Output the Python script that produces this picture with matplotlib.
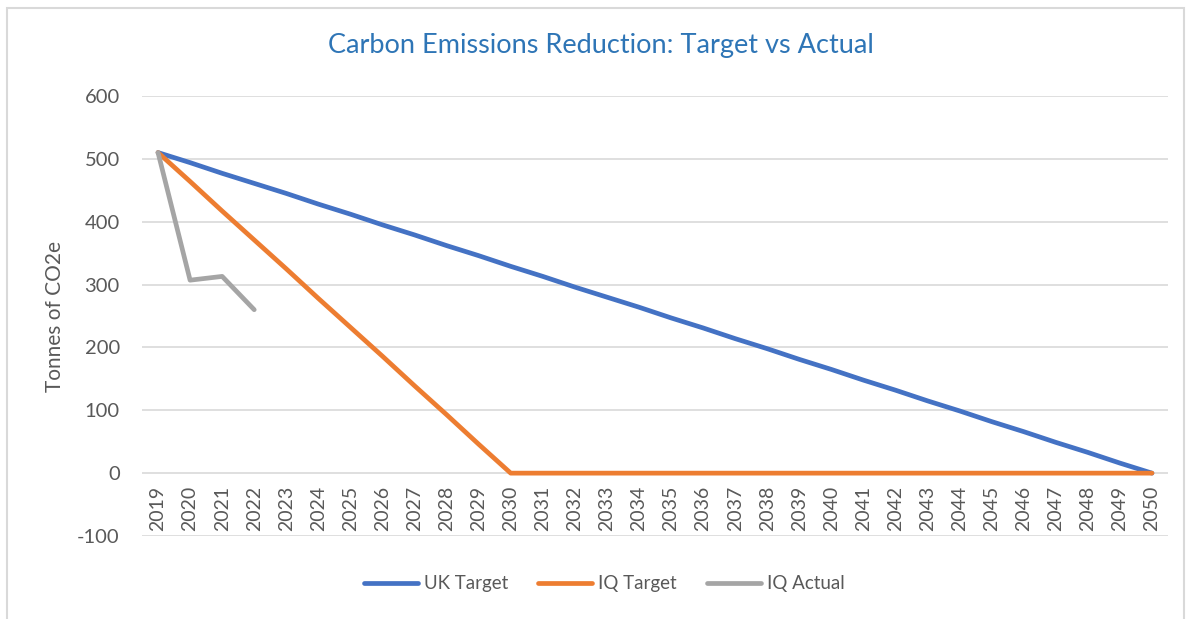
import matplotlib
matplotlib.use("Agg")
import matplotlib.pyplot as plt
from matplotlib.patches import Rectangle

plt.rcParams['font.family'] = ['Lato', 'DejaVu Sans']
plt.rcParams['axes.unicode_minus'] = False

years = [str(y) for y in range(2019, 2051)]

uk_target = [510, 494, 477, 461, 445, 428, 412, 395, 379, 362, 346, 329,
             313, 296, 280, 264, 247, 231, 214, 198, 181, 165, 148, 132,
             115, 99, 82, 66, 49, 33, 16, 0]
iq_target = [510, 464, 417, 371, 325, 278, 232, 186, 139, 93, 46, 0,
             0, 0, 0, 0, 0, 0, 0, 0, 0, 0, 0, 0,
             0, 0, 0, 0, 0, 0, 0, 0]
iq_actual = [510, 307, 313, 260]

series_names = ['UK Target', 'IQ Target', 'IQ Actual']
colors = ['#4472C4', '#ED7D31', '#A5A5A5']
text_col = '#595959'

W, H = 1189, 619
fig = plt.figure(figsize=(W / 100, H / 100), dpi=100)
ax = fig.add_axes([142 / W, 1 - 536 / H, (1168 - 142) / W, (536 - 96) / H])

x = list(range(len(years)))
ax.plot(x, uk_target, color=colors[0], lw=3.4, label=series_names[0], solid_capstyle='round', zorder=3)
ax.plot(x, iq_target, color=colors[1], lw=3.4, label=series_names[1], solid_capstyle='round', zorder=4)
ax.plot(x[:len(iq_actual)], iq_actual, color=colors[2], lw=3.4, label=series_names[2], solid_capstyle='round', zorder=5)

ax.set_xlim(-0.5, len(years) - 0.5)
ax.set_ylim(-100, 600)
ax.set_yticks(range(-100, 601, 100))
ax.yaxis.grid(True, color='#D9D9D9', lw=1.2)
ax.set_axisbelow(True)

for s in ax.spines.values():
    s.set_visible(False)
ax.spines['bottom'].set_position(('data', 0))

ax.set_xticks(x)
ax.set_xticklabels(years, rotation=90, va='top', ha='center')
ax.tick_params(axis='x', length=0, pad=9, labelsize=14, labelcolor=text_col)
ax.tick_params(axis='y', length=0, pad=16, labelsize=14.5, labelcolor=text_col)

ax.set_ylabel('Tonnes of CO2e', fontsize=15, color=text_col, labelpad=9)

fig.text(0.505, 1 - 45 / H, 'Carbon Emissions Reduction: Target vs Actual',
         ha='center', va='center', fontsize=19.5, color='#2E75B6')

fig.legend(loc='center', bbox_to_anchor=(0.508, 1 - 584 / H), ncol=3,
           frameon=False, fontsize=13.5, handlelength=2.9, columnspacing=1.6,
           handletextpad=0.3, labelcolor=text_col)

fig.patches.append(Rectangle((7 / W, -0.05), (1184 - 7) / W, 1.05 - 8 / H,
                             transform=fig.transFigure, fill=False,
                             edgecolor='#D9D9D9', lw=1.5))

fig.savefig('out.png', dpi=100, facecolor='white')
